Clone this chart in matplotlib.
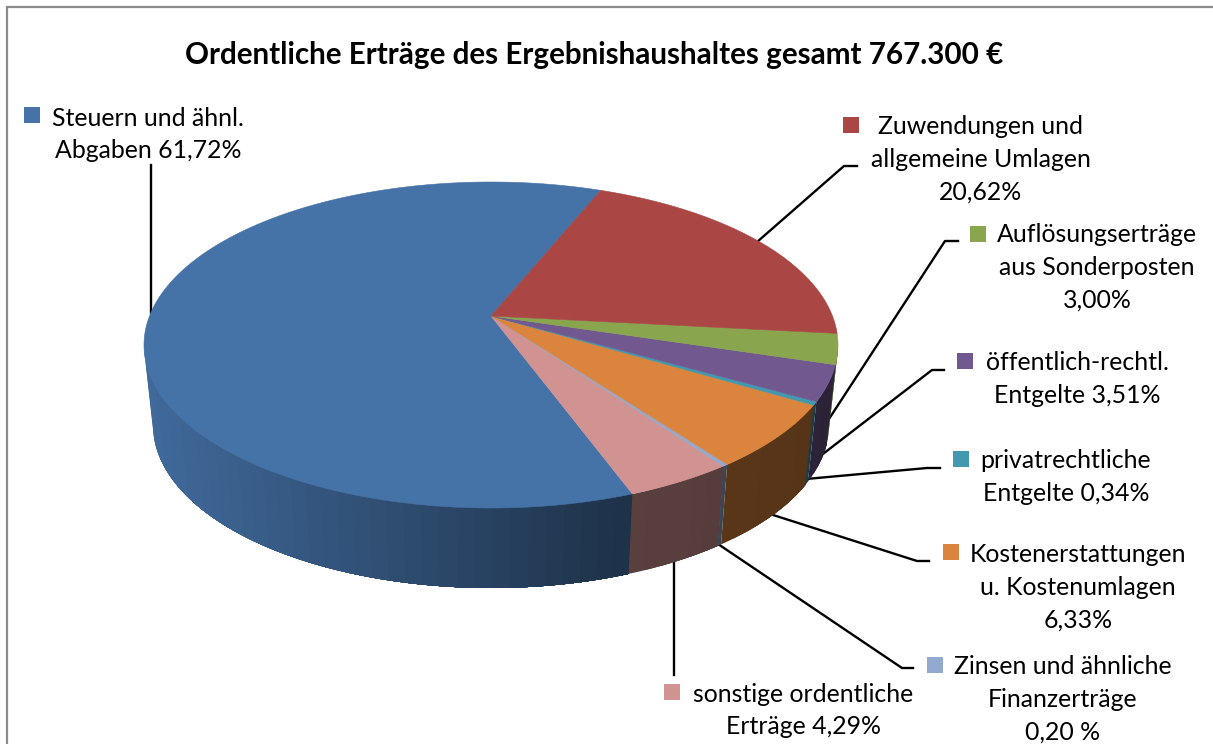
import numpy as np
import matplotlib
matplotlib.use("Agg")
import matplotlib.pyplot as plt
from matplotlib.patches import Rectangle

# data, in drawing order (counter clockwise from the start angle)
shares = [61.72, 4.29, 0.20, 6.33, 0.34, 3.51, 3.00, 20.62]
colors = ["#4572A7", "#D19392", "#93A9CF", "#DB843D", "#4198AF", "#71588F", "#89A54E", "#AA4643"]
labels = [
    ["Steuern und ähnl.", "Abgaben 61,72%"],
    ["sonstige ordentliche", "Erträge 4,29%"],
    ["Zinsen und ähnliche", "Finanzerträge", "0,20 %"],
    ["Kostenerstattungen", "u. Kostenumlagen", "6,33%"],
    ["privatrechtliche", "Entgelte 0,34%"],
    ["öffentlich-rechtl.", "Entgelte 3,51%"],
    ["Auflösungserträge", "aus Sonderposten", "3,00%"],
    ["Zuwendungen und", "allgemeine Umlagen", "20,62%"],
]
title = "Ordentliche Erträge des Ergebnishaushaltes gesamt 767.300 €"

# label layout: text centre x, first line y, marker left x, marker top y
label_x = [148, 803, 1063, 1078, 1066, 1077, 1097, 981]
label_y = [118, 694, 667, 555, 461, 363, 235, 127]
marker_x = [24, 664, 927, 943, 953, 957, 970, 843]
marker_y = [107, 684, 657, 544, 451, 353, 226, 117]

# leader lines
leaders = [
    [(151, 313), (151, 165)],
    [(674, 561), (674, 675)],
    [(718, 544), (902, 668), (913, 668)],
    [(770, 514), (917, 561), (929, 561)],
    [(806, 479), (927, 468), (940, 468)],
    [(819, 457), (932, 370), (944, 370)],
    [(827, 422), (945, 241), (958, 241)],
    [(757, 242), (844, 166), (857, 166)],
]

START = 68.0
CX, TOP_CY, TOP_A, TOP_B = 491, 345, 347, 163
BOT_A, BOT_CY, BOT_B = 338, 425, 163
K = 0.178  # perspective, moves the pie centre up from the ellipse centre
WALL_FROM = 180 + np.degrees(np.arcsin(K))
WALL_TO = 360 - np.degrees(np.arcsin(K))


def project(theta):
    c, s = np.cos(np.radians(theta)), np.sin(np.radians(theta))
    d = 1 + K * s
    return c * np.sqrt(1 - K ** 2) / d, (s + K) / d


def darken(col, f):
    return tuple(np.array(matplotlib.colors.to_rgb(col)) * f)


plt.rcParams["font.family"] = ["Lato", "DejaVu Sans"]
fig = plt.figure(figsize=(12.13, 7.44), dpi=100)
ax = fig.add_axes([0, 0, 1, 1])
ax.set_xlim(0, 1213)
ax.set_ylim(744, 0)
ax.axis("off")

# chart frame
ax.plot([6.5, 6.5, 1213], [744, 6.5, 6.5], color="#8C8C8C", lw=1.6, solid_joinstyle="miter")

angles = START + np.cumsum([0] + shares) * 360 / sum(shares)

for seg in leaders:
    xs, ys = zip(*seg)
    ax.plot(xs, ys, color="black", lw=1.7, zorder=1)

# side wall: each band runs on to the end of its slice and the next one paints
# over it, so there are no seams between the bands
for i, col in enumerate(colors):
    lo, hi = np.clip([angles[i], angles[i + 1]], WALL_FROM, WALL_TO)
    if hi <= lo:
        continue
    for a in np.arange(lo, hi, 2.5):
        t = np.linspace(a, hi, max(int(hi - a) * 2, 2))
        u, v = project(t)
        f = np.interp(project(a + 1.25)[0], [-1, 0.4, 1], [0.93, 0.43, 0.39])
        xq = np.r_[CX + u * TOP_A, CX + u[::-1] * BOT_A]
        yq = np.r_[TOP_CY - v * TOP_B, BOT_CY - v[::-1] * BOT_B]
        ax.fill(xq, yq, color=darken(col, f), lw=0, zorder=2)

# top of the pie
apex_x, apex_y = CX, TOP_CY - K * TOP_B
for i, col in enumerate(colors):
    t = np.linspace(angles[i], angles[i + 1], max(int(angles[i + 1] - angles[i]) * 2, 2))
    u, v = project(t)
    xs = np.r_[apex_x, CX + u * TOP_A]
    ys = np.r_[apex_y, TOP_CY - v * TOP_B]
    ax.fill(xs, ys, color=col, lw=0.4, zorder=3)

ax.text(594, 55, title, ha="center", va="center", fontsize=21.3, fontweight="bold", color="black")

for lines, x, y, mx, my, col in zip(labels, label_x, label_y, marker_x, marker_y, colors):
    for j, line in enumerate(lines):
        ax.text(x, y + j * 32.7, line, ha="center", va="center", fontsize=17.9, color="black")
    ax.add_patch(Rectangle((mx, my), 15.5, 15.5, facecolor=col, edgecolor="none"))

fig.savefig("out.png", dpi=100)
